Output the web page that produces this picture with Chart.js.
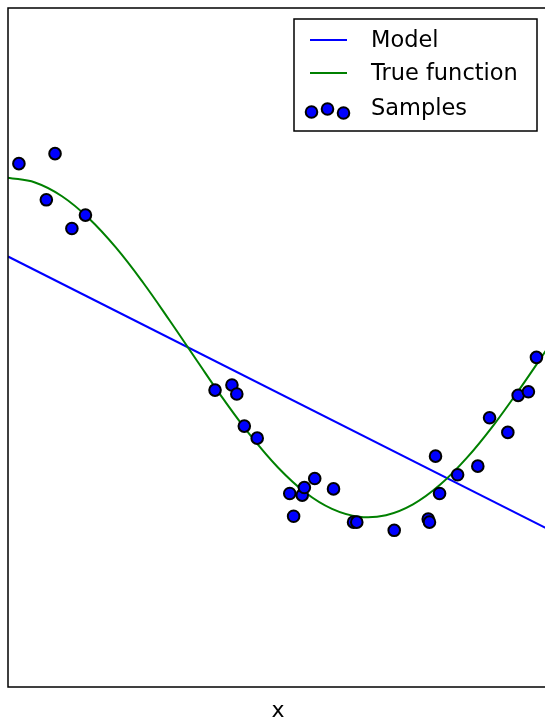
<!DOCTYPE html>
<html>
<head>
<meta charset="utf-8">
<script src="https://cdn.jsdelivr.net/npm/chart.js@4/dist/chart.umd.min.js"></script>
<style>
html,body{margin:0;padding:0;background:#fff;overflow:hidden;}
canvas{display:block;}
</style>
</head>
<body>
<canvas id="c" width="560" height="721"></canvas>
<script>
// ---- data ----
const sampleX = [0.0202, 0.0710, 0.0871, 0.1183, 0.1434, 0.3834, 0.4147, 0.4237, 0.4376, 0.4615,
                 0.5218, 0.5289, 0.5449, 0.5488, 0.5680, 0.6028, 0.6399, 0.6459, 0.7152, 0.7782,
                 0.7805, 0.7917, 0.7992, 0.8326, 0.8700, 0.8918, 0.9256, 0.9447, 0.9637, 0.9786];
const sampleY = [1.083, 0.870, 1.142, 0.701, 0.780, -0.251, -0.221, -0.274, -0.463, -0.534,
                 -0.860, -0.994, -0.870, -0.825, -0.772, -0.833, -1.029, -1.029, -1.077, -1.010,
                 -1.029, -0.640, -0.860, -0.750, -0.699, -0.414, -0.500, -0.282, -0.261, -0.058];
const trueX = [0, 0.05, 0.10, 0.15, 0.20, 0.25, 0.30, 0.35, 0.40, 0.45, 0.50,
               0.55, 0.60, 0.65, 0.70, 0.75, 0.80, 0.85, 0.90, 0.95, 1.00];
const trueY = [1.000, 0.972, 0.891, 0.760, 0.588, 0.383, 0.156, -0.078, -0.309, -0.522, -0.707,
               -0.853, -0.951, -0.997, -0.988, -0.924, -0.809, -0.649, -0.454, -0.233, 0.000];
const modelX = [0, 1];
const modelY = [0.536, -1.070];
const legendLabels = ['Model', 'True function', 'Samples'];
const xLabel = 'x';

const toPts = (xs, ys) => xs.map((x, i) => ({x: x, y: ys[i]}));

const BLUE = '#0000ff', GREEN = '#008000';
const FONT = '"DejaVu Sans", sans-serif';

const framePlugin = {
  id: 'frame',
  afterDraw(chart) {
    const ctx = chart.ctx, a = chart.chartArea;
    ctx.save();
    ctx.strokeStyle = '#000';
    ctx.lineWidth = 1.5;
    ctx.strokeRect(a.left, a.top, a.right - a.left, a.bottom - a.top);
    // x label
    ctx.fillStyle = '#000';
    ctx.font = '22px ' + FONT;
    ctx.textAlign = 'center';
    ctx.textBaseline = 'middle';
    ctx.fillText(xLabel, (a.left + a.right) / 2, 711);
    // legend
    const bx = 294, by = 19, bw = 243, bh = 112;
    ctx.fillStyle = '#fff';
    ctx.fillRect(bx, by, bw, bh);
    ctx.strokeStyle = '#000';
    ctx.lineWidth = 1.5;
    ctx.strokeRect(bx, by, bw, bh);
    const rows = [40, 73, 108];
    ctx.lineWidth = 2;
    ctx.strokeStyle = BLUE;
    ctx.beginPath(); ctx.moveTo(310, rows[0]); ctx.lineTo(347, rows[0]); ctx.stroke();
    ctx.strokeStyle = GREEN;
    ctx.beginPath(); ctx.moveTo(310, rows[1]); ctx.lineTo(347, rows[1]); ctx.stroke();
    const dots = [[311.5, 112], [327.5, 109], [343.5, 113]];
    dots.forEach(d => {
      ctx.beginPath();
      ctx.arc(d[0], d[1], 5.8, 0, Math.PI * 2);
      ctx.fillStyle = BLUE; ctx.fill();
      ctx.lineWidth = 2; ctx.strokeStyle = '#000'; ctx.stroke();
    });
    ctx.fillStyle = '#000';
    ctx.font = '22.5px ' + FONT;
    ctx.textAlign = 'left';
    ctx.textBaseline = 'middle';
    legendLabels.forEach((t, i) => ctx.fillText(t, 371, rows[i] + 1));
    ctx.restore();
  }
};

new Chart(document.getElementById('c'), {
  type: 'scatter',
  data: {
    datasets: [
      {
        label: legendLabels[2],
        data: toPts(sampleX, sampleY),
        showLine: false,
        pointRadius: 5.8,
        pointBorderWidth: 2,
        pointBackgroundColor: BLUE,
        pointBorderColor: '#000'
      },
      {
        label: legendLabels[1],
        data: toPts(trueX, trueY),
        showLine: true,
        borderColor: GREEN,
        borderWidth: 2,
        pointRadius: 0,
        tension: 0.4
      },
      {
        label: legendLabels[0],
        data: toPts(modelX, modelY),
        showLine: true,
        borderColor: BLUE,
        borderWidth: 2,
        pointRadius: 0
      }
    ]
  },
  options: {
    responsive: false,
    animation: false,
    devicePixelRatio: 1,
    layout: { padding: { left: 8, top: 8, right: 12, bottom: 34 } },
    plugins: { legend: { display: false }, tooltip: { enabled: false } },
    scales: {
      x: { type: 'linear', min: 0, max: 1, display: false },
      y: { type: 'linear', min: -2, max: 2, display: false }
    }
  },
  plugins: [framePlugin]
});
</script>
</body>
</html>
